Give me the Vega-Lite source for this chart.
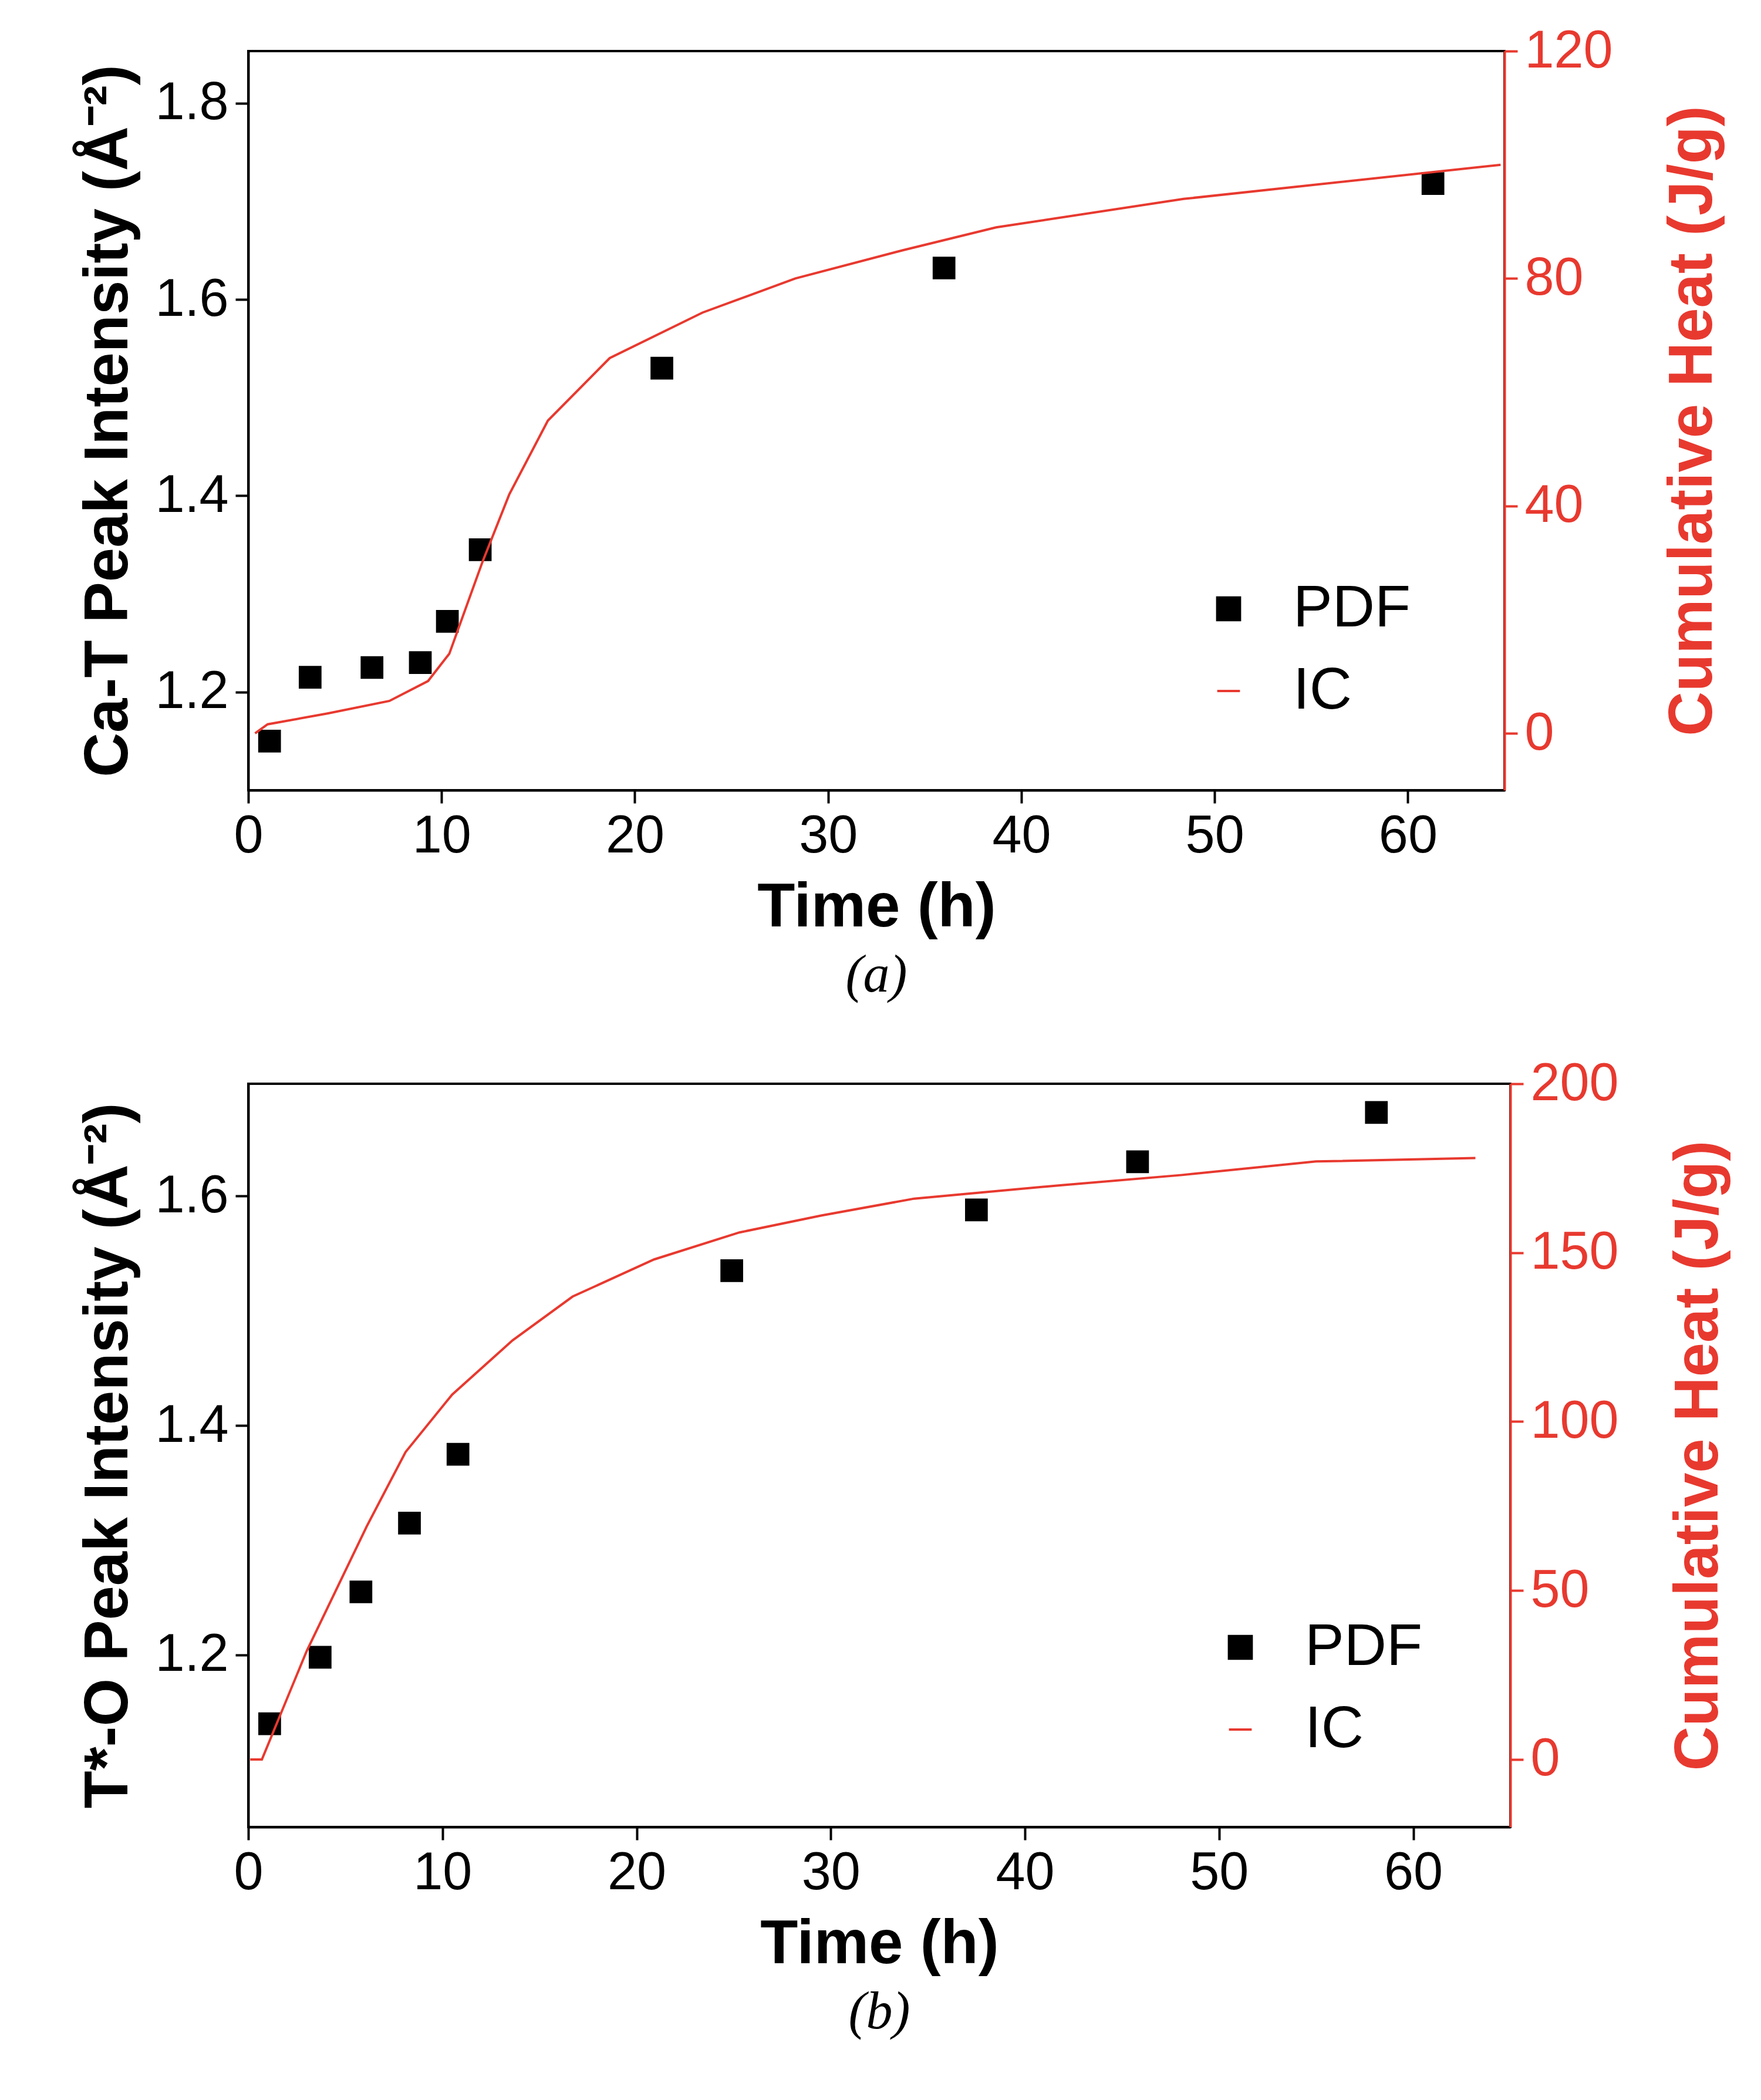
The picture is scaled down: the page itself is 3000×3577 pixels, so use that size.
{
  "$schema": "https://vega.github.io/schema/vega-lite/v6.json",
  "background": "white",
  "padding": {"left": 130, "top": 40, "right": 10, "bottom": 10},
  "spacing": 90,
  "datasets": {
    "pdfA": [
      {"t": 1.1, "v": 1.15}, {"t": 3.2, "v": 1.215}, {"t": 6.4, "v": 1.225},
      {"t": 8.9, "v": 1.23}, {"t": 10.3, "v": 1.272}, {"t": 12.0, "v": 1.345},
      {"t": 21.4, "v": 1.53}, {"t": 36.0, "v": 1.632}, {"t": 61.3, "v": 1.718}
    ],
    "icA": [
      {"t": 0.35, "h": 0}, {"t": 1.0, "h": 1.6}, {"t": 4.1, "h": 3.5}, {"t": 7.3, "h": 5.7},
      {"t": 9.3, "h": 9.2}, {"t": 10.4, "h": 14}, {"t": 12.1, "h": 30}, {"t": 13.5, "h": 42},
      {"t": 15.5, "h": 55}, {"t": 18.7, "h": 66}, {"t": 23.5, "h": 74}, {"t": 28.3, "h": 80},
      {"t": 33.9, "h": 85}, {"t": 38.7, "h": 89}, {"t": 48.4, "h": 94}, {"t": 64.8, "h": 100}
    ],
    "pdfB": [
      {"t": 1.1, "v": 1.14}, {"t": 3.7, "v": 1.198}, {"t": 5.8, "v": 1.255},
      {"t": 8.3, "v": 1.315}, {"t": 10.8, "v": 1.375}, {"t": 24.9, "v": 1.535},
      {"t": 37.5, "v": 1.588}, {"t": 45.8, "v": 1.63}, {"t": 58.1, "v": 1.673}
    ],
    "icB": [
      {"t": 0.1, "h": 0}, {"t": 0.7, "h": 0}, {"t": 3.0, "h": 32}, {"t": 6.1, "h": 69},
      {"t": 8.1, "h": 91}, {"t": 10.5, "h": 108}, {"t": 13.6, "h": 124}, {"t": 16.7, "h": 137},
      {"t": 20.9, "h": 148}, {"t": 25.3, "h": 156}, {"t": 29.5, "h": 161}, {"t": 34.3, "h": 166},
      {"t": 41.9, "h": 170}, {"t": 48.1, "h": 173}, {"t": 55.0, "h": 177}, {"t": 63.2, "h": 178}
    ]
  },
  "vconcat": [
    {
      "width": 2140,
      "height": 1259,
      "title": {"text": "(a)", "orient": "bottom", "font": "Liberation Serif", "fontStyle": "italic", "fontWeight": "normal", "fontSize": 90, "offset": 20},
      "layer": [
        {
          "data": {"name": "pdfA"},
          "mark": {"type": "point", "shape": "square", "filled": true, "size": 1500, "opacity": 1},
          "encoding": {
            "x": {"field": "t", "type": "quantitative", "scale": {"domain": [0, 65], "nice": false}, "axis": {"values": [0, 10, 20, 30, 40, 50, 60], "title": "Time (h)"}},
            "y": {"field": "v", "type": "quantitative", "scale": {"domain": [1.1, 1.853], "nice": false, "zero": false}, "axis": {"values": [1.2, 1.4, 1.6, 1.8], "format": ".1f", "title": "Ca-T Peak Intensity (Å⁻²)"}},
            "color": {"datum": "PDF", "type": "nominal", "scale": {"domain": ["PDF", "IC"], "range": ["black", "#e8392f"]}, "legend": {"orient": "none", "legendX": 1620, "legendY": 900, "title": null}},
            "shape": {"datum": "PDF", "type": "nominal", "scale": {"domain": ["PDF", "IC"], "range": ["square", "stroke"]}}
          }
        },
        {
          "data": {"name": "icA"},
          "mark": {"type": "line", "strokeWidth": 4},
          "encoding": {
            "x": {"field": "t", "type": "quantitative"},
            "y": {"field": "h", "type": "quantitative", "scale": {"domain": [-10, 120], "nice": false}, "axis": {"orient": "right", "values": [0, 40, 80, 120], "title": "Cumulative Heat (J/g)", "titleAngle": 270, "titleBaseline": "bottom", "titlePadding": 190, "labelColor": "#e8392f", "titleColor": "#e8392f", "domainColor": "#e8392f", "tickColor": "#e8392f"}},
            "color": {"datum": "IC", "type": "nominal"},
            "shape": {"datum": "IC", "type": "nominal"}
          }
        }
      ],
      "resolve": {"scale": {"y": "independent"}}
    },
    {
      "width": 2150,
      "height": 1266,
      "title": {"text": "(b)", "orient": "bottom", "font": "Liberation Serif", "fontStyle": "italic", "fontWeight": "normal", "fontSize": 90, "offset": 20},
      "layer": [
        {
          "data": {"name": "pdfB"},
          "mark": {"type": "point", "shape": "square", "filled": true, "size": 1500, "opacity": 1},
          "encoding": {
            "x": {"field": "t", "type": "quantitative", "scale": {"domain": [0, 65], "nice": false}, "axis": {"values": [0, 10, 20, 30, 40, 50, 60], "title": "Time (h)"}},
            "y": {"field": "v", "type": "quantitative", "scale": {"domain": [1.05, 1.698], "nice": false, "zero": false}, "axis": {"values": [1.2, 1.4, 1.6], "format": ".1f", "title": "T*-O Peak Intensity (Å⁻²)"}},
            "color": {"datum": "PDF", "type": "nominal", "scale": {"domain": ["PDF", "IC"], "range": ["black", "#e8392f"]}, "legend": {"orient": "none", "legendX": 1640, "legendY": 910, "title": null}},
            "shape": {"datum": "PDF", "type": "nominal", "scale": {"domain": ["PDF", "IC"], "range": ["square", "stroke"]}}
          }
        },
        {
          "data": {"name": "icB"},
          "mark": {"type": "line", "strokeWidth": 4},
          "encoding": {
            "x": {"field": "t", "type": "quantitative"},
            "y": {"field": "h", "type": "quantitative", "scale": {"domain": [-20, 200], "nice": false}, "axis": {"orient": "right", "values": [0, 50, 100, 150, 200], "title": "Cumulative Heat (J/g)", "titleAngle": 270, "titleBaseline": "bottom", "titlePadding": 190, "labelColor": "#e8392f", "titleColor": "#e8392f", "domainColor": "#e8392f", "tickColor": "#e8392f"}},
            "color": {"datum": "IC", "type": "nominal"},
            "shape": {"datum": "IC", "type": "nominal"}
          }
        }
      ],
      "resolve": {"scale": {"y": "independent"}}
    }
  ],
  "resolve": {"scale": {"color": "independent", "shape": "independent"}},
  "config": {
    "font": "Liberation Sans",
    "view": {"stroke": "black", "strokeWidth": 4},
    "axis": {
      "grid": false,
      "labelFontSize": 90,
      "titleFontSize": 105,
      "titleFontWeight": "bold",
      "labelColor": "black",
      "titleColor": "black",
      "domainColor": "black",
      "domainWidth": 4,
      "tickColor": "black",
      "tickWidth": 4,
      "tickSize": 22,
      "labelPadding": 12,
      "titlePadding": 25,
      "labelFlush": false
    },
    "legend": {
      "labelFontSize": 100,
      "labelLimit": 0,
      "labelColor": "black",
      "symbolSize": 1500,
      "symbolStrokeWidth": 4,
      "rowPadding": 40,
      "labelOffset": 60
    }
  }
}
